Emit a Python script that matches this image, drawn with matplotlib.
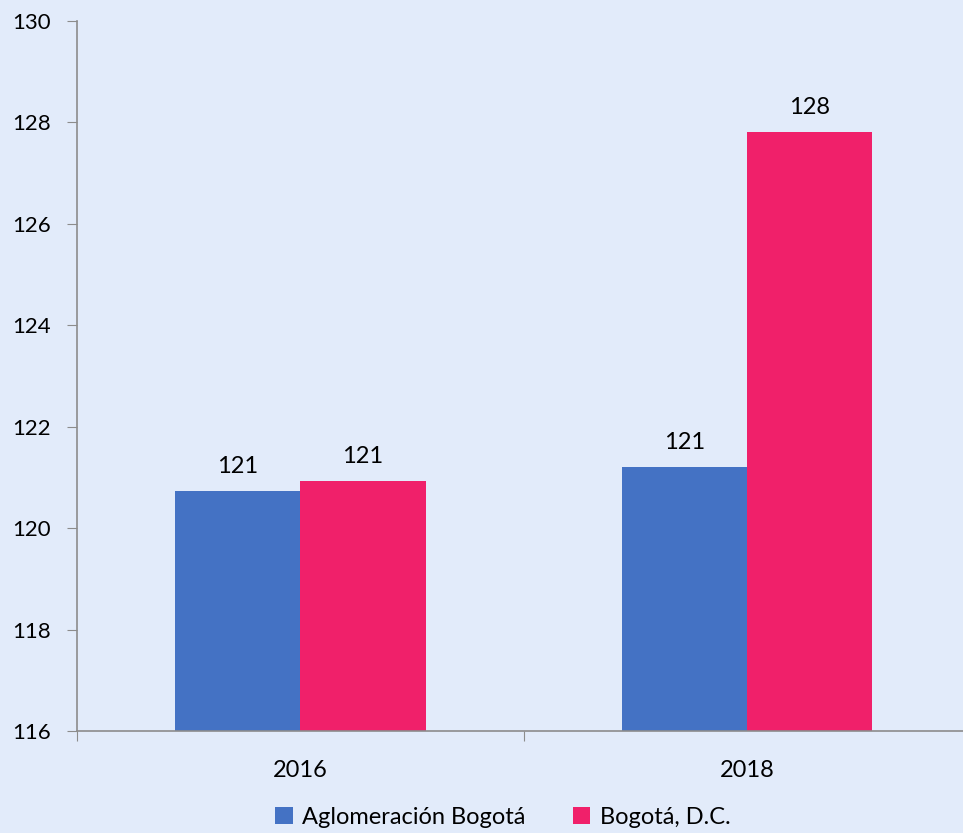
import numpy as np
import matplotlib.pyplot as plt
from matplotlib.ticker import FixedLocator, NullFormatter

# data
years = ["2016", "2018"]
aglomeracion = [120.74, 121.2]
bogota = [120.93, 127.8]
series_names = ["Aglomeración Bogotá", "Bogotá, D.C."]

bg = "#E2EBFA"
blue = "#4472C4"
pink = "#F0206A"
grey = "#8C8C8C"

plt.rcParams['font.family'] = ['Lato', 'DejaVu Sans']

fig = plt.figure(figsize=(9.63, 8.33), dpi=100, facecolor=bg)
ax = fig.add_axes([0.080, 0.1224, 0.928, 0.8527], facecolor=bg)

x = np.arange(len(years))
w = 0.28
b1 = ax.bar(x - w/2, aglomeracion, w, color=blue, label=series_names[0])
b2 = ax.bar(x + w/2, bogota, w, color=pink, label=series_names[1])

for bars in (b1, b2):
    for rect in bars:
        v = rect.get_height()
        ax.annotate(f"{v:.0f}", (rect.get_x() + rect.get_width()/2, v),
                    xytext=(0, 10), textcoords="offset points",
                    ha="center", va="bottom", fontsize=17)

ax.set_ylim(116, 130)
ax.set_yticks(np.arange(116, 131, 2))
ax.set_xlim(-0.5, 1.5)

# ticks at category boundaries, labels at centres
ax.xaxis.set_major_locator(FixedLocator([-0.5, 0.5, 1.5]))
ax.xaxis.set_major_formatter(NullFormatter())
ax.xaxis.set_minor_locator(FixedLocator(x))
ax.set_xticklabels(years, minor=True)
ax.tick_params(axis="x", which="major", length=7, color=grey, direction="out")
ax.tick_params(axis="x", which="minor", length=0, pad=21, labelsize=17)
ax.tick_params(axis="y", length=7, color=grey, pad=12, labelsize=16)

for s in ("top", "right"):
    ax.spines[s].set_visible(False)
for s in ("left", "bottom"):
    ax.spines[s].set_color(grey)
    ax.spines[s].set_linewidth(1.2)

fig.legend(handles=[b1, b2], loc="lower center", bbox_to_anchor=(0.522, -0.019),
           ncol=2, frameon=False, fontsize=17, handlelength=0.75,
           handleheight=0.75, handletextpad=0.4, columnspacing=2.0)

fig.savefig("out.png", dpi=100, facecolor=bg)
